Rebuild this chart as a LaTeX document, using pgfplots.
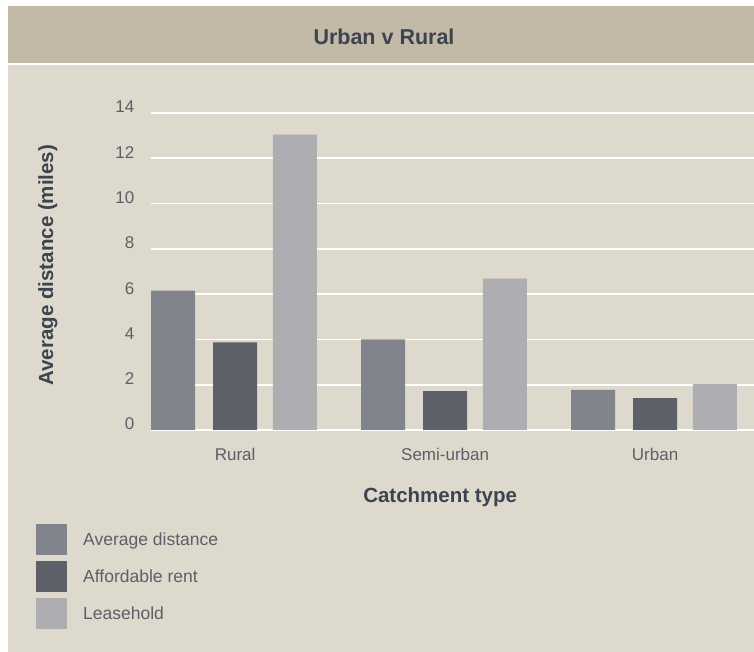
\documentclass[border=0pt]{standalone}
\usepackage{fontspec}
\setmainfont{Liberation Sans}
\usepackage{pgfplots}
\pgfplotsset{compat=1.18}
\definecolor{hdr}{RGB}{194,185,167}
\definecolor{panel}{RGB}{221,217,205}
\definecolor{avgc}{RGB}{130,132,139}
\definecolor{affc}{RGB}{93,96,104}
\definecolor{leac}{RGB}{174,173,177}
\definecolor{txt}{RGB}{92,95,104}
\definecolor{lbl}{RGB}{62,67,80}

\begin{document}
\begin{tikzpicture}
% background: white page, header band, panel
\fill[white] (0pt,0pt) rectangle (754pt,652pt);
\fill[hdr] (8pt,589pt) rectangle (754pt,646pt);
\fill[panel] (8pt,0pt) rectangle (754pt,587pt);
\node[lbl, font=\fontsize{21.5}{24}\selectfont\bfseries] at (384pt,615pt) {Urban v Rural};

\begin{axis}[
  at={(150.5pt,222pt)}, anchor=south west,
  scale only axis,
  width=603.5pt, height=317pt,
  xmin=-0.403, xmax=2.471,
  ymin=0, ymax=14,
  ytick={0,2,...,14},
  xtick={0,1,2},
  xticklabels={Rural,Semi-urban,Urban},
  ymajorgrids,
  grid style={white, line width=1.6pt},
  axis line style={draw=none},
  major tick length=0pt,
  /pgf/number format/assume math mode=true,
  tick label style={txt, font=\fontsize{17}{20}\selectfont, inner sep=0pt},
  yticklabel style={anchor=base east, xshift=-16pt},
  xticklabel style={anchor=base, yshift=-31pt},
  ylabel={Average distance (miles)},
  xlabel={Catchment type},
  label style={lbl, font=\fontsize{20.5}{23}\selectfont\bfseries},
  ylabel style={at={(axis description cs:-0.17,0.52)}, anchor=center},
  xlabel style={at={(axis description cs:0.48,-0.211)}, anchor=center},
  ybar, bar width=44pt,
  legend cell align=left,
  legend style={at={(axis description cs:-0.1897,-0.2965)}, anchor=north west,
    draw=none, fill=none, inner xsep=0pt, inner ysep=0pt,
    row sep=6pt,
    nodes={txt, font=\fontsize{17.5}{20}\selectfont, inner sep=0pt},
    /tikz/every odd column/.append style={column sep=16pt}},
]
\addplot[fill=avgc, draw=none, bar shift=-62pt,
  legend image code/.code={\fill[avgc] (0pt,-15.5pt) rectangle (31pt,15.5pt);}]
  coordinates {(0,6.15) (1,4.0) (2,1.77)};
\addlegendentry{Average distance}
\addplot[fill=affc, draw=none, bar shift=0pt,
  legend image code/.code={\fill[affc] (0pt,-15.5pt) rectangle (31pt,15.5pt);}]
  coordinates {(0,3.87) (1,1.72) (2,1.41)};
\addlegendentry{Affordable rent}
\addplot[fill=leac, draw=none, bar shift=59.7pt,
  legend image code/.code={\fill[leac] (0pt,-15.5pt) rectangle (31pt,15.5pt);}]
  coordinates {(0,13.05) (1,6.68) (2,2.03)};
\addlegendentry{Leasehold}
\end{axis}
\pgfresetboundingbox
\path[use as bounding box] (0pt,0pt) rectangle (754pt,652pt);
\end{tikzpicture}
\end{document}
